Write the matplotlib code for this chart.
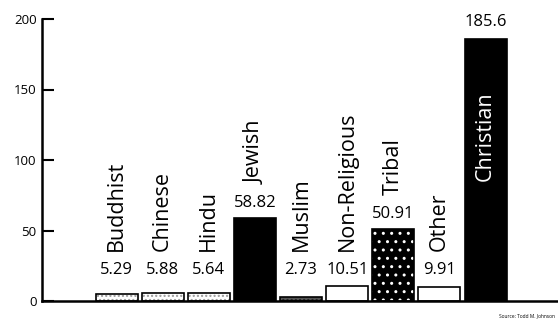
import matplotlib
matplotlib.use("Agg")
import matplotlib.pyplot as plt
import numpy as np

plt.rcParams['font.family'] = ['Open Sans', 'DejaVu Sans']

religions = ['Buddhist', 'Chinese', 'Hindu', 'Jewish', 'Muslim',
             'Non-Religious', 'Tribal', 'Other', 'Christian']
values = [5.29, 5.88, 5.64, 58.82, 2.73, 10.51, 50.91, 9.91, 185.6]
value_text = ['5.29', '5.88', '5.64', '58.82', '2.73', '10.51', '50.91', '9.91', '185.6']
y_ticks = [0, 50, 100, 150, 200]

# fill style per bar: (facecolor, hatch, hatch colour)
styles = [('white', '....', '#999999'),
          ('white', '....', '#999999'),
          ('white', '....', '#999999'),
          ('black', None, None),
          ('#555555', '....', '#222222'),
          ('white', None, None),
          ('black', '..', 'white'),
          ('white', None, None),
          ('black', None, None)]

fig = plt.figure(figsize=(5.58, 3.22), dpi=100)
ax = fig.add_axes([42 / 558, 1 - 301 / 322, 1 - 42 / 558, (301 - 19) / 322])

x = np.arange(len(religions))
width = 0.91
for xi, v, (fc, hatch, hc) in zip(x, values, styles):
    if hatch:
        ax.bar(xi, v, width, color=fc, edgecolor=hc, hatch=hatch, linewidth=0)
        ax.bar(xi, v, width, fill=False, edgecolor='black', linewidth=1.2)
    else:
        ax.bar(xi, v, width, color=fc, edgecolor='black', linewidth=1.2)

for xi, v, name, txt in zip(x, values, religions, value_text):
    if name == 'Christian':
        ax.text(xi, 198, txt, ha='center', va='center', fontsize=12)
        ax.text(xi, 117, name, ha='center', va='center', rotation=90,
                fontsize=15.5, color='white')
        continue
    vy = max(v, 11.5) + 10.5
    ax.text(xi, vy, txt, ha='center', va='center', fontsize=12)
    ax.text(xi, vy + 13.5, name, ha='center', va='bottom', rotation=90, fontsize=15.5)

ax.set_xlim(-1.616, 9.57)
ax.set_ylim(0, 200)
ax.set_yticks(y_ticks)
ax.set_xticks([])
ax.tick_params(axis='y', direction='in', length=8.5, width=1.5, labelsize=9.5, pad=4)
for s in ['top', 'right']:
    ax.spines[s].set_visible(False)
ax.spines['left'].set_linewidth(1.8)
ax.spines['bottom'].set_linewidth(1.8)

fig.text(0.995, 0.012, 'Source: Todd M. Johnson', ha='right', va='bottom', fontsize=3.5)

fig.savefig('out.png', dpi=100)
